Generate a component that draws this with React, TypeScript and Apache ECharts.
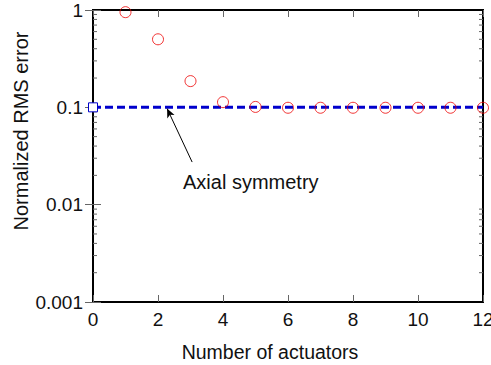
import React, { useEffect, useRef } from "react";
import * as echarts from "echarts";

const actuators = [1, 2, 3, 4, 5, 6, 7, 8, 9, 10, 11, 12];
const rmsError = [0.95, 0.5, 0.186, 0.113, 0.101, 0.099, 0.099, 0.099, 0.099, 0.099, 0.099, 0.099];
const axialX = [0, 12];
const axialY = [0.1, 0.1];
const xTicks = [0, 2, 4, 6, 8, 10, 12];
const yTickLabels = ["0.001", "0.01", "0.1", "1"];
const minorTickValues: number[] = [];
[0.001, 0.01, 0.1].forEach((d) => {
  for (let k = 2; k <= 9; k++) minorTickValues.push(+(d * k).toPrecision(3));
});
const arrowFrom = [3.05, 0.0274];
const arrowTo = [2.28, 0.097];
const annotation = "Axial symmetry";
const xTitle = "Number of actuators";
const yTitle = "Normalized RMS error";

const FONT = "'Liberation Sans', Arial, sans-serif";
const TXT = "#111";
const FS = 19;

export default function App() {
  const ref = useRef<HTMLDivElement>(null);
  useEffect(() => {
    const chart = echarts.init(ref.current!, null, { renderer: "svg" });
    chart.setOption({
      animation: false,
      textStyle: { fontFamily: FONT },
      grid: { left: 93, right: 8, top: 10, bottom: 63, containLabel: false, outerBoundsMode: "none", show: true, borderColor: "#000", borderWidth: 2, backgroundColor: "transparent" },
      xAxis: [
        {
          type: "value", min: 0, max: 12, interval: 2, position: "bottom",
          axisLine: { show: false },
          axisTick: { show: true, inside: true, length: 7, lineStyle: { color: "#666", width: 1 } },
          axisLabel: { fontSize: FS, color: TXT, margin: 8, fontFamily: FONT, hideOverlap: false,
            formatter: (v: number) => (xTicks.includes(v) ? String(v) : "") },
          splitLine: { show: false },
        },
        {
          type: "value", min: 0, max: 12, interval: 2, position: "top",
          axisLine: { show: false },
          axisTick: { show: true, inside: true, length: 7, lineStyle: { color: "#666", width: 1 } },
          axisLabel: { show: false }, splitLine: { show: false },
        },
      ],
      yAxis: [
        {
          type: "log", logBase: 10, min: 0.001, max: 1, position: "left",
          axisLine: { show: false },
          axisTick: { show: true, inside: true, length: 8, lineStyle: { color: "#666", width: 1 } },
          axisLabel: { fontSize: FS, color: TXT, margin: 10, fontFamily: FONT,
            formatter: (v: number) => {
              const s = yTickLabels.find((t) => Math.abs(parseFloat(t) - v) / v < 1e-6);
              return s ?? "";
            } },
          splitLine: { show: false },
        },
        {
          type: "log", logBase: 10, min: 0.001, max: 1, position: "right",
          axisLine: { show: false },
          axisTick: { show: true, inside: true, length: 8, lineStyle: { color: "#666", width: 1 } },
          axisLabel: { show: false }, splitLine: { show: false },
        },
      ],
      series: [
        {
          type: "custom",
          xAxisIndex: 0, yAxisIndex: 0,
          silent: true,
          clip: false,
          data: minorTickValues.map((v) => [0, v]),
          renderItem: (params: any, api: any) => {
            const v = api.value(1);
            const l = api.coord([0, v]);
            const r = api.coord([12, v]);
            return {
              type: "group",
              children: [
                { type: "line", shape: { x1: l[0], y1: l[1], x2: l[0] + 4, y2: l[1] }, style: { stroke: "#666", lineWidth: 1 } },
                { type: "line", shape: { x1: r[0], y1: r[1], x2: r[0] - 4, y2: r[1] }, style: { stroke: "#666", lineWidth: 1 } },
              ],
            };
          },
        },
        {
          type: "line",
          xAxisIndex: 0, yAxisIndex: 0,
          clip: false,
          data: axialX.map((x, i) => ({
            value: [x, axialY[i]],
            symbol: i === 0 ? "rect" : "none",
          })),
          symbolSize: 9,
          showAllSymbol: true,
          lineStyle: { color: "#0000cc", width: 3, type: [8, 4] },
          itemStyle: { color: "#fff", borderColor: "#0000cc", borderWidth: 1 },
          z: 3,
          markLine: {
            silent: true,
            symbol: ["none", "arrow"],
            symbolSize: [6, 9],
            label: { show: false },
            lineStyle: { color: "#000", width: 1, type: "solid" },
            data: [[{ coord: arrowFrom }, { coord: arrowTo }]],
          },
        },
        {
          type: "scatter",
          xAxisIndex: 0, yAxisIndex: 0,
          clip: false,
          data: actuators.map((x, i) => [x, rmsError[i]]),
          symbol: "circle",
          symbolSize: 11,
          itemStyle: { color: "transparent", borderColor: "#ee0000", borderWidth: 1 },
          z: 4,
        },
      ],
      graphic: [
        {
          type: "text", left: 183, top: 172,
          style: { text: annotation, fontSize: 20, fill: TXT, fontFamily: FONT },
        },
        {
          type: "text", x: 270, y: 352,
          style: { text: xTitle, fontSize: 19.5, fill: TXT, fontFamily: FONT, align: "center", verticalAlign: "middle" },
        },
        {
          type: "text", x: 21, y: 131, rotation: Math.PI / 2,
          style: { text: yTitle, fontSize: 20, fill: TXT, fontFamily: FONT, align: "center", verticalAlign: "middle" },
        },
      ],
    });
    return () => chart.dispose();
  }, []);
  return <div ref={ref} style={{ width: 491, height: 365, position: "absolute", left: 0, top: 0 }} />;
}
